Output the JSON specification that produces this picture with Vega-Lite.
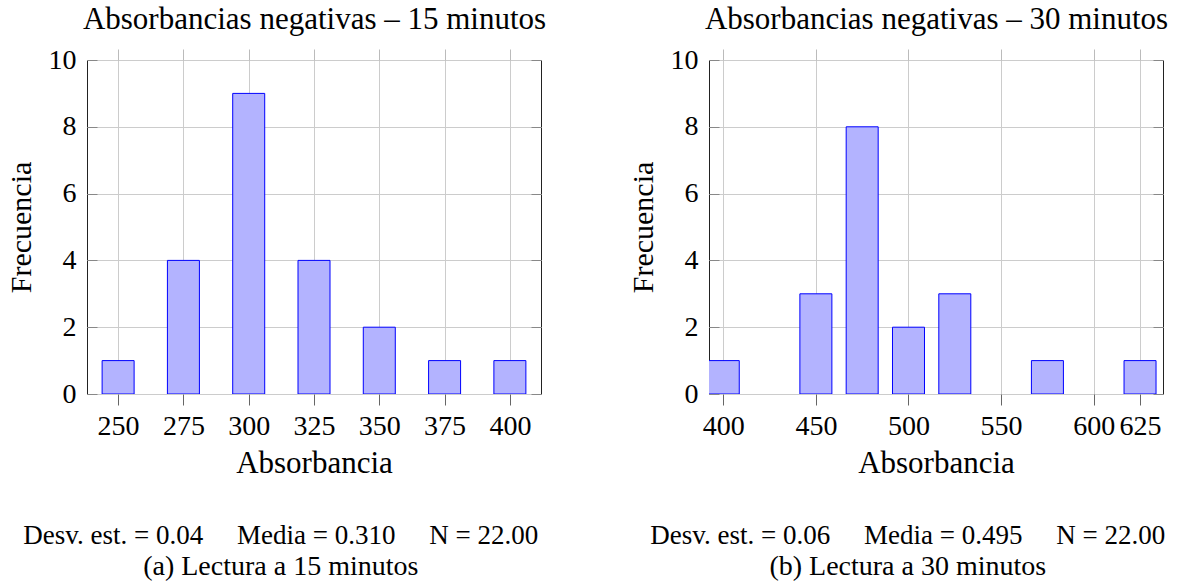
{
  "$schema": "https://vega.github.io/schema/vega-lite/v6.json",
  "autosize": {"type": "pad"},
  "padding": {"left": 5, "top": 3, "right": 0, "bottom": 0},
  "background": "white",
  "spacing": 168,
  "bounds": "flush",
  "hconcat": [
    {
      "width": 454,
      "height": 334,
      "title": {
        "text": "Desv. est. = 0.04\u00a0\u2003Media = 0.310\u00a0\u2003N = 22.00",
        "subtitle": "(a) Lectura a 15 minutos",
        "dx": 5
      },
      "data": {"values": [
        {"absorbancia": 250, "frecuencia": 1},
        {"absorbancia": 275, "frecuencia": 4},
        {"absorbancia": 300, "frecuencia": 9},
        {"absorbancia": 325, "frecuencia": 4},
        {"absorbancia": 350, "frecuencia": 2},
        {"absorbancia": 375, "frecuencia": 1},
        {"absorbancia": 400, "frecuencia": 1}
      ]},
      "layer": [
        {
          "mark": {"type": "bar", "size": 32, "fill": "#b3b3ff", "stroke": "#0000ff", "strokeWidth": 1, "clip": true},
          "encoding": {
            "x": {"field": "absorbancia", "type": "quantitative",
              "scale": {"domain": [240, 410], "nice": false, "zero": false},
              "axis": {"orient": "bottom", "title": "Absorbancia", "values": [250, 275, 300, 325, 350, 375, 400], "grid": true, "tickColor": "#666666", "tickSize": 11, "labelPadding": 7, "titlePadding": 8}},
            "y": {"field": "frecuencia", "type": "quantitative",
              "scale": {"domain": [0, 10], "nice": false},
              "axis": {"orient": "left", "title": "Frecuencia", "titleFontSize": 30, "values": [0, 2, 4, 6, 8, 10], "grid": true, "tickColor": "#888888", "tickSize": -10, "labelPadding": 21, "titlePadding": 12}}
          }
        },
        {
          "mark": {"type": "point", "opacity": 0},
          "encoding": {
            "x": {"field": "absorbancia", "type": "quantitative",
              "scale": {"domain": [240, 410], "nice": false, "zero": false},
              "axis": {"orient": "top", "title": "Absorbancias negativas – 15 minutos", "values": [250, 275, 300, 325, 350, 375, 400], "labels": false, "grid": false, "tickColor": "#bbbbbb", "tickSize": 11, "titlePadding": 13, "titleFontSize": 31}},
            "y": {"field": "frecuencia", "type": "quantitative",
              "scale": {"domain": [0, 10], "nice": false},
              "axis": {"orient": "right", "title": null, "values": [0, 2, 4, 6, 8, 10], "labels": false, "grid": false, "tickColor": "#888888", "tickSize": -10}}
          }
        }
      ],
      "resolve": {"axis": {"x": "independent", "y": "independent"}}
    },
    {
      "width": 454,
      "height": 334,
      "title": {
        "text": "Desv. est. = 0.06\u00a0\u2003Media = 0.495\u00a0\u2003N = 22.00",
        "subtitle": "(b) Lectura a 30 minutos",
        "dx": 10
      },
      "data": {"values": [
        {"absorbancia": 400, "frecuencia": 1},
        {"absorbancia": 450, "frecuencia": 3},
        {"absorbancia": 475, "frecuencia": 8},
        {"absorbancia": 500, "frecuencia": 2},
        {"absorbancia": 525, "frecuencia": 3},
        {"absorbancia": 575, "frecuencia": 1},
        {"absorbancia": 625, "frecuencia": 1}
      ]},
      "layer": [
        {
          "mark": {"type": "bar", "size": 32, "fill": "#b3b3ff", "stroke": "#0000ff", "strokeWidth": 1, "clip": true},
          "encoding": {
            "x": {"field": "absorbancia", "type": "quantitative",
              "scale": {"domain": [395, 634.7], "nice": false, "zero": false},
              "axis": {"orient": "bottom", "title": "Absorbancia", "values": [400, 450, 500, 550, 600, 625], "grid": true, "tickColor": "#666666", "tickSize": 11, "labelPadding": 7, "titlePadding": 8}},
            "y": {"field": "frecuencia", "type": "quantitative",
              "scale": {"domain": [0, 10], "nice": false},
              "axis": {"orient": "left", "title": "Frecuencia", "titleFontSize": 30, "values": [0, 2, 4, 6, 8, 10], "grid": true, "tickColor": "#888888", "tickSize": -10, "labelPadding": 21, "titlePadding": 12}}
          }
        },
        {
          "mark": {"type": "point", "opacity": 0},
          "encoding": {
            "x": {"field": "absorbancia", "type": "quantitative",
              "scale": {"domain": [395, 634.7], "nice": false, "zero": false},
              "axis": {"orient": "top", "title": "Absorbancias negativas – 30 minutos", "values": [400, 450, 500, 550, 600, 625], "labels": false, "grid": false, "tickColor": "#bbbbbb", "tickSize": 11, "titlePadding": 13, "titleFontSize": 31}},
            "y": {"field": "frecuencia", "type": "quantitative",
              "scale": {"domain": [0, 10], "nice": false},
              "axis": {"orient": "right", "title": null, "values": [0, 2, 4, 6, 8, 10], "labels": false, "grid": false, "tickColor": "#888888", "tickSize": -10}}
          }
        }
      ],
      "resolve": {"axis": {"x": "independent", "y": "independent"}}
    }
  ],
  "config": {
    "font": "'Liberation Serif', 'DejaVu Serif', serif",
    "view": {"stroke": "#222222", "strokeWidth": 1},
    "axis": {
      "labelFont": "'Liberation Serif', 'DejaVu Serif', serif",
      "titleFont": "'Liberation Serif', 'DejaVu Serif', serif",
      "labelFontSize": 28,
      "titleFontSize": 31,
      "labelColor": "#000000",
      "titleColor": "#000000",
      "titleFontWeight": "normal",
      "domain": false,
      "gridColor": "#cccccc",
      "gridOpacity": 1,
      "gridWidth": 1,
      "tickWidth": 1,
      "labelOverlap": false,
      "labelFlush": false,
      "labelBound": false
    },
    "title": {
      "orient": "bottom",
      "anchor": "middle",
      "frame": "bounds",
      "font": "'Liberation Serif', 'DejaVu Serif', serif",
      "fontSize": 27,
      "fontWeight": "normal",
      "color": "#000000",
      "subtitleFont": "'Liberation Serif', 'DejaVu Serif', serif",
      "subtitleFontSize": 28,
      "subtitleColor": "#000000",
      "subtitlePadding": 3,
      "offset": 45
    }
  }
}
